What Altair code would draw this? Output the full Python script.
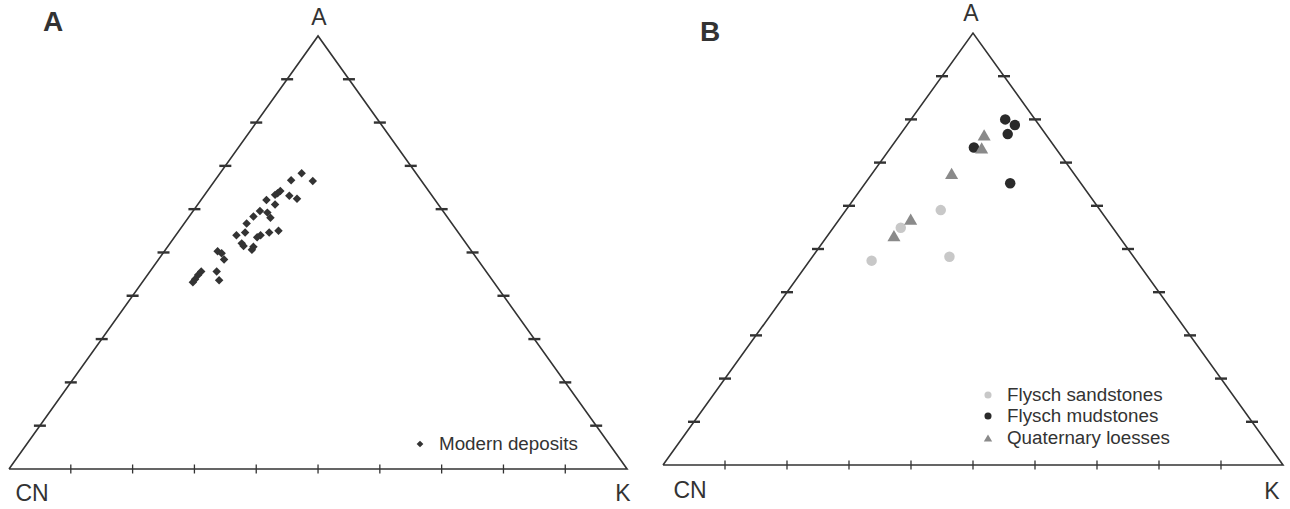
import altair as alt
import pandas as pd

# ---- Ternary A-CN-K diagrams (molar Al2O3 / CaO*+Na2O / K2O, %) ----
tick_steps = [10, 20, 30, 40, 50, 60, 70, 80, 90]

# Panel A: modern deposits
modern_A = [68.3, 66.5, 66.7, 64.2, 63.7, 63.3, 63.1, 62.4, 62.1, 61.1, 59.6, 59.2,
            58.3, 58.0, 56.7, 55.0, 54.6, 54.0, 53.5, 54.6, 54.0, 52.1, 51.5, 51.3,
            50.6, 50.3, 49.8, 48.4, 45.6, 43.6, 45.6, 44.8, 43.8, 43.1]
modern_K = [13.2, 15.9, 12.3, 11.8, 11.6, 11.4, 13.8, 15.4, 10.6, 12.5, 10.8, 12.2,
            10.4, 13.3, 10.1, 16.1, 14.8, 13.7, 13.4, 10.9, 9.8, 11.6, 12.2, 13.9,
            14.0, 8.6, 9.5, 10.6, 10.8, 12.2, 8.3, 8.2, 8.2, 8.2]
modern_CN = [18.5, 17.6, 21.0, 24.0, 24.7, 25.3, 23.1, 22.2, 27.3, 26.4, 29.6, 28.6,
             31.3, 28.7, 33.2, 28.9, 30.6, 32.3, 33.1, 34.5, 36.2, 36.3, 36.3, 34.8,
             35.4, 41.1, 40.7, 41.0, 43.6, 44.2, 46.1, 47.0, 48.0, 48.7]

# Panel B: source rocks
sand_A = [59.0, 54.9, 47.3, 48.2]
sand_K = [15.3, 10.9, 10.0, 22.1]
sand_CN = [25.7, 34.2, 42.7, 29.7]

mud_A = [80.0, 78.7, 76.6, 73.5, 65.2]
mud_K = [15.2, 17.4, 17.3, 13.4, 23.4]
mud_CN = [4.8, 3.9, 6.1, 13.1, 11.4]

loess_A = [76.4, 73.4, 67.5, 56.9, 53.1]
loess_K = [13.6, 14.7, 12.8, 11.5, 10.7]
loess_CN = [10.0, 11.9, 19.7, 31.6, 36.2]

series_names = ["Modern deposits", "Flysch sandstones", "Flysch mudstones", "Quaternary loesses"]
panel_letters = ["A", "B"]
vertex_names = ["A", "CN", "K"]

INK = "#333333"
FONT = "Liberation Sans"
PANEL_W, PANEL_H = 645, 509


def frame(a, k, cn):
    return pd.DataFrame({"A": a, "K": k, "CN": cn})


outline = pd.DataFrame({"A": [0, 100, 0, 0], "K": [0, 0, 100, 0], "i": [0, 1, 2, 3]})

base_ticks = pd.DataFrame({"A": [0] * len(tick_steps), "K": tick_steps})
side_ticks = pd.concat([
    pd.DataFrame({"A": tick_steps, "K": [0] * len(tick_steps)}),
    pd.DataFrame({"A": tick_steps, "K": [100 - v for v in tick_steps]}),
])


def enc(xdom, ydom):
    return dict(
        x=alt.X("tx:Q", scale=alt.Scale(domain=xdom, nice=False, zero=False), axis=None),
        y=alt.Y("A:Q", scale=alt.Scale(domain=ydom, nice=False, zero=False), axis=None),
    )


def tern(data):
    # horizontal position in a ternary plot with CN at the left and K at the right
    return alt.Chart(data).transform_calculate(tx="datum.K + datum.A / 2")


def label(text, x, y, size, bold=False, align="center"):
    return alt.Chart(pd.DataFrame({"t": [text]})).mark_text(
        font=FONT, fontSize=size, fontWeight="bold" if bold else "normal",
        color=INK, align=align, baseline="middle",
    ).encode(x=alt.value(x), y=alt.value(y), text="t:N")


def key(shape, color, size, x, y):
    return alt.Chart(pd.DataFrame({"t": [0]})).mark_point(
        shape=shape, filled=True, size=size, color=color, opacity=1, strokeWidth=0
    ).encode(x=alt.value(x), y=alt.value(y))


def skeleton(xdom, ydom):
    e = enc(xdom, ydom)
    edge = tern(outline).mark_line(color=INK, strokeWidth=1.6).encode(
        order=alt.Order("i:Q"), **e)
    bt = tern(base_ticks).mark_tick(orient="vertical", size=9, thickness=1.3, color=INK,
                                    opacity=1).encode(**e)
    st = tern(side_ticks).mark_tick(orient="horizontal", size=12, thickness=2.4, color=INK,
                                    opacity=1).encode(**e)
    return [edge, bt, st]


def scatter(data, shape, color, size, xdom, ydom):
    return tern(data).mark_point(
        shape=shape, filled=True, size=size, color=color, opacity=1, strokeWidth=0
    ).encode(**enc(xdom, ydom))


# ---- Panel A ----
xa, ya = [-1.456, 102.9], [-9.24, 108.3]
panel_a = alt.layer(
    *skeleton(xa, ya),
    scatter(frame(modern_A, modern_K, modern_CN), "diamond", INK, 72, xa, ya),
    label(panel_letters[0], 53, 23, 28, bold=True),
    label(vertex_names[0], 319, 18, 23),
    label(vertex_names[1], 32, 494, 23),
    label(vertex_names[2], 623, 494, 23),
    key("diamond", INK, 45, 420, 444),
    label(series_names[0], 439, 444, 18.8, align="left"),
).properties(width=PANEL_W, height=PANEL_H)

# ---- Panel B ----
xb, yb = [-2.903, 101.13], [-10.19, 107.64]
panel_b = alt.layer(
    *skeleton(xb, yb),
    scatter(frame(sand_A, sand_K, sand_CN), "circle", "#c8c8c8", 110, xb, yb),
    scatter(frame(mud_A, mud_K, mud_CN), "circle", "#2a2a2a", 110, xb, yb),
    scatter(frame(loess_A, loess_K, loess_CN), "triangle-up", "#8a8a8a", 170, xb, yb),
    label(panel_letters[1], 65, 33, 28, bold=True),
    label(vertex_names[0], 326, 14, 23),
    label(vertex_names[1], 45, 491, 23),
    label(vertex_names[2], 627, 492, 23),
    key("circle", "#c8c8c8", 50, 343, 395),
    key("circle", "#2a2a2a", 50, 343, 416),
    key("triangle-up", "#8a8a8a", 70, 343, 438),
    label(series_names[1], 362, 395, 18.8, align="left"),
    label(series_names[2], 362, 416, 18.8, align="left"),
    label(series_names[3], 362, 438, 18.8, align="left"),
).properties(width=PANEL_W, height=PANEL_H)

chart = alt.hconcat(panel_a, panel_b, spacing=0).properties(
    padding=0, background="white"
).configure_view(strokeWidth=0)

chart.save("out.html", embed_options={"renderer": "svg", "actions": False})
